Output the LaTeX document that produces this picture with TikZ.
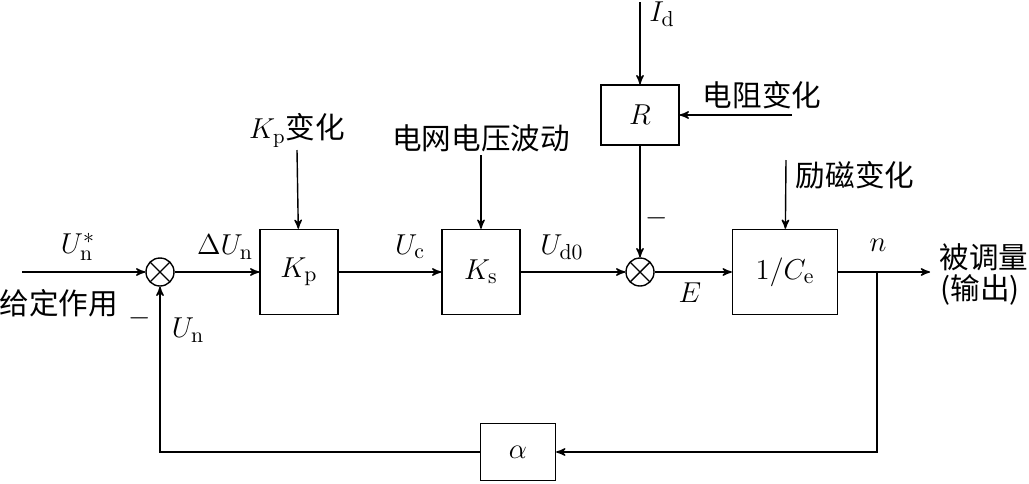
\documentclass[tikz,border=0pt]{standalone}
\usepackage{fontspec}
\newfontfamily\cjk{Noto Sans CJK SC}
\usetikzlibrary{arrows,calc,positioning}

\begin{document}
\begin{tikzpicture}[x=0.5pt,y=-0.5pt,>=stealth',line width=0.7pt,
font=\fontsize{15.5}{18}\selectfont,
block/.style={draw,minimum width=39pt,minimum height=42.5pt,inner sep=0pt},
sumnode/.style={draw,circle,minimum size=14pt,inner sep=0pt,
  path picture={\draw (path picture bounding box.north west) -- (path picture bounding box.south east)
                      (path picture bounding box.north east) -- (path picture bounding box.south west);}},
cjklabel/.style={font=\cjk\fontsize{14.8}{17}\selectfont,inner sep=1pt},]
\useasboundingbox (0,0) rectangle (1029,483);

% blocks
\node[sumnode] (sum1) at (160,272) {};
\node[block] (kp) at (299,272) {$K_{\mathrm p}$};
\node[block] (ks) at (481,272) {$K_{\mathrm s}$};
\node[sumnode] (sum2) at (640,272) {};
\node[block,minimum width=52.5pt] (ce) at (785,272) {$1/C_{\mathrm e}$};
\node[block,minimum height=30pt] (r) at (640,115) {$R$};
\node[block,minimum width=37.5pt,minimum height=28.5pt] (alpha) at (518,452) {$\alpha$};

% free ends
\coordinate (in) at (22,272);
\coordinate (out) at (930,272);
\coordinate (branch) at (877,272);
\coordinate (idtop) at (640,2);
\coordinate (kpvar) at (297,150);
\coordinate (ksvar) at (481,155);
\coordinate (cevar) at (786,160);
\coordinate (rvar) at (792,115);

% labels
\node (unstar) at (78,247) {$U_{\mathrm n}^*$};
\node[cjklabel] (given) at (59,303) {给定作用};
\node (dun) at (225,247) {$\Delta U_{\mathrm n}$};
\node (uc) at (410,247) {$U_{\mathrm c}$};
\node (ud0) at (562,247) {$U_{\mathrm{d0}}$};
\node (e) at (690,293) {$E$};
\node (n) at (878,245) {$n$};
\node[cjklabel] (outtxt) at (984,257) {被调量};
\node[cjklabel] (outtxt2) at (980,290) {(输出)};
\node (minus1) at (140,318) {$-$};
\node (un) at (188,330) {$U_{\mathrm n}$};
\node (minus2) at (657,218) {$-$};
\node (id) at (662,14) {$I_{\mathrm d}$};
\node[cjklabel,above=0pt of kpvar] (kptxt) {$K_{\mathrm p}$变化};
\node[cjklabel,above=0pt of ksvar] (kstxt) {电网电压波动};
\node[cjklabel] (rtxt) at (762,95) {电阻变化};
\node[cjklabel] (cetxt) at (855,175) {励磁变化};

% connectors
\draw[->] (in) -- (sum1);
\draw[->] (sum1) -- (kp);
\draw[->] (kp) -- (ks);
\draw[->] (ks) -- (sum2);
\draw[->] (sum2) -- (ce);
\draw[->] (ce) -- (out);
\draw[->] (branch) |- (alpha);
\draw[->] (alpha) -| (sum1);
\draw[->] (idtop) -- (r);
\draw[->] (rvar) -- (r);
\draw[->] (r) -- (sum2);
\draw[->] (kpvar) -- (kp);
\draw[->] (ksvar) -- (ks);
\draw[->] (cevar) -- (ce);
\end{tikzpicture}
\end{document}
